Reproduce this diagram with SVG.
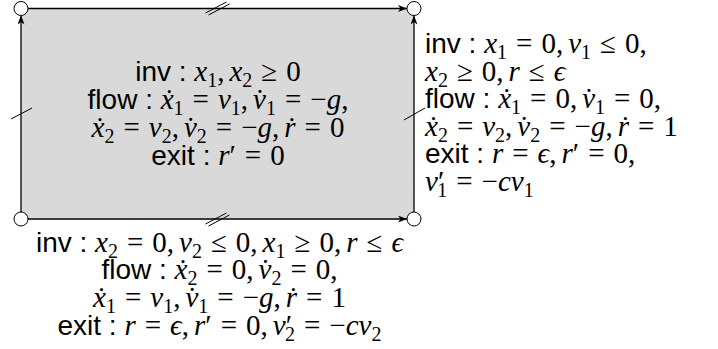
<svg xmlns="http://www.w3.org/2000/svg" width="718" height="349" viewBox="0 0 718 349">
<style>
.t{font-family:"Liberation Serif","DejaVu Serif",serif;font-size:29px;fill:#000}
.w{font-family:"Liberation Sans",Arial,sans-serif;font-size:28px}
.i{font-style:italic}
.s{font-size:20px;font-style:normal}
.edge{stroke:#000;stroke-width:1.3;fill:none}
.tick{stroke:#000;stroke-width:1;fill:none}
.corner{fill:#fff;stroke:#000;stroke-width:1}
</style>
<defs>
<marker id="ah" viewBox="0 0 9 7" refX="9" refY="3.5" markerWidth="9" markerHeight="7" markerUnits="userSpaceOnUse" orient="auto">
<path d="M0,0 L9,3.5 L0,7 L2.5,3.5 Z" fill="#000"/>
</marker>
</defs>

<g id="region">
<rect x="21" y="8.5" width="393" height="210.5" fill="#d9d9d9"/>
<text class="t" x="218" y="81" text-anchor="middle"><tspan class="w">inv : </tspan><tspan class="i">x</tspan><tspan class="s" dy="6">1</tspan><tspan dy="-6">,</tspan><tspan class="i" dx="5">x</tspan><tspan class="s" dy="6">2</tspan><tspan dy="-6" dx="9">≥</tspan><tspan dx="9">0</tspan></text>
<text class="t" x="218" y="109" text-anchor="middle"><tspan class="w">flow : </tspan><tspan class="i">x&#x307;</tspan><tspan class="s" dy="6">1</tspan><tspan dy="-6" dx="9">=</tspan><tspan class="i" dx="9">v</tspan><tspan class="s" dy="6">1</tspan><tspan dy="-6">,</tspan><tspan class="i" dx="5">v&#x307;</tspan><tspan class="s" dy="6">1</tspan><tspan dy="-6" dx="9">=</tspan><tspan dx="9">−</tspan><tspan class="i">g</tspan><tspan>,</tspan></text>
<text class="t" x="218" y="137" text-anchor="middle"><tspan class="i">x&#x307;</tspan><tspan class="s" dy="6">2</tspan><tspan dy="-6" dx="9">=</tspan><tspan class="i" dx="9">v</tspan><tspan class="s" dy="6">2</tspan><tspan dy="-6">,</tspan><tspan class="i" dx="5">v&#x307;</tspan><tspan class="s" dy="6">2</tspan><tspan dy="-6" dx="9">=</tspan><tspan dx="9">−</tspan><tspan class="i">g</tspan><tspan>,</tspan><tspan class="i" dx="5">r&#x307;</tspan><tspan dx="9">=</tspan><tspan dx="9">0</tspan></text>
<text class="t" x="218" y="165" text-anchor="middle"><tspan class="w">exit : </tspan><tspan class="i">r</tspan><tspan>′</tspan><tspan dx="9">=</tspan><tspan dx="9">0</tspan></text>
</g>

<g id="connectors">
<line class="edge" x1="28" y1="8.5" x2="407" y2="8.5" marker-end="url(#ah)"/>
<line class="edge" x1="28" y1="219" x2="407" y2="219" marker-end="url(#ah)"/>
<line class="edge" x1="21" y1="212" x2="21" y2="15.5" marker-end="url(#ah)"/>
<line class="edge" x1="414" y1="212" x2="414" y2="15.5" marker-end="url(#ah)"/>
<path class="tick" d="M205.5,13 L226.5,2 M208.5,15 L229.5,4"/>
<path class="tick" d="M205.5,224 L226.5,213 M208.5,226 L229.5,215"/>
<path class="tick" d="M11,119 L32,108"/>
<path class="tick" d="M404,120 L425,108"/>
</g>

<g id="corner-tl"><circle class="corner" cx="21" cy="8.5" r="7"/></g>
<g id="corner-tr"><circle class="corner" cx="414" cy="8.5" r="7"/></g>
<g id="corner-bl"><circle class="corner" cx="21" cy="219" r="7"/></g>
<g id="corner-br"><circle class="corner" cx="414" cy="219" r="7"/></g>

<g id="label-right">
<text class="t" x="425" y="53"><tspan class="w">inv : </tspan><tspan class="i">x</tspan><tspan class="s" dy="6">1</tspan><tspan dy="-6" dx="9">=</tspan><tspan dx="9">0,</tspan><tspan class="i" dx="5">v</tspan><tspan class="s" dy="6">1</tspan><tspan dy="-6" dx="9">≤</tspan><tspan dx="9">0,</tspan></text>
<text class="t" x="425" y="80.5"><tspan class="i">x</tspan><tspan class="s" dy="6">2</tspan><tspan dy="-6" dx="9">≥</tspan><tspan dx="9">0,</tspan><tspan class="i" dx="5">r</tspan><tspan dx="9">≤</tspan><tspan class="i" dx="9">ϵ</tspan></text>
<text class="t" x="425" y="108"><tspan class="w">flow : </tspan><tspan class="i">x&#x307;</tspan><tspan class="s" dy="6">1</tspan><tspan dy="-6" dx="9">=</tspan><tspan dx="9">0,</tspan><tspan class="i" dx="5">v&#x307;</tspan><tspan class="s" dy="6">1</tspan><tspan dy="-6" dx="9">=</tspan><tspan dx="9">0,</tspan></text>
<text class="t" x="425" y="135.5"><tspan class="i">x&#x307;</tspan><tspan class="s" dy="6">2</tspan><tspan dy="-6" dx="9">=</tspan><tspan class="i" dx="9">v</tspan><tspan class="s" dy="6">2</tspan><tspan dy="-6">,</tspan><tspan class="i" dx="5">v&#x307;</tspan><tspan class="s" dy="6">2</tspan><tspan dy="-6" dx="9">=</tspan><tspan dx="9">−</tspan><tspan class="i">g</tspan><tspan>,</tspan><tspan class="i" dx="5">r&#x307;</tspan><tspan dx="9">=</tspan><tspan dx="9">1</tspan></text>
<text class="t" x="425" y="163"><tspan class="w">exit : </tspan><tspan class="i">r</tspan><tspan dx="9">=</tspan><tspan class="i" dx="9">ϵ</tspan><tspan>,</tspan><tspan class="i" dx="5">r</tspan><tspan>′</tspan><tspan dx="9">=</tspan><tspan dx="9">0,</tspan></text>
<text class="t" x="425" y="190.5"><tspan class="i">v</tspan><tspan>′</tspan><tspan class="s" dx="-7" dy="6">1</tspan><tspan dy="-6" dx="9">=</tspan><tspan dx="9">−</tspan><tspan class="i">cv</tspan><tspan class="s" dy="6">1</tspan></text>
</g>

<g id="label-bottom">
<text class="t" x="219.5" y="251.5" text-anchor="middle"><tspan class="w">inv : </tspan><tspan class="i">x</tspan><tspan class="s" dy="6">2</tspan><tspan dy="-6" dx="9">=</tspan><tspan dx="9">0,</tspan><tspan class="i" dx="5">v</tspan><tspan class="s" dy="6">2</tspan><tspan dy="-6" dx="9">≤</tspan><tspan dx="9">0,</tspan><tspan class="i" dx="5">x</tspan><tspan class="s" dy="6">1</tspan><tspan dy="-6" dx="9">≥</tspan><tspan dx="9">0,</tspan><tspan class="i" dx="5">r</tspan><tspan dx="9">≤</tspan><tspan class="i" dx="9">ϵ</tspan></text>
<text class="t" x="219.5" y="279" text-anchor="middle"><tspan class="w">flow : </tspan><tspan class="i">x&#x307;</tspan><tspan class="s" dy="6">2</tspan><tspan dy="-6" dx="9">=</tspan><tspan dx="9">0,</tspan><tspan class="i" dx="5">v&#x307;</tspan><tspan class="s" dy="6">2</tspan><tspan dy="-6" dx="9">=</tspan><tspan dx="9">0,</tspan></text>
<text class="t" x="219.5" y="306.5" text-anchor="middle"><tspan class="i">x&#x307;</tspan><tspan class="s" dy="6">1</tspan><tspan dy="-6" dx="9">=</tspan><tspan class="i" dx="9">v</tspan><tspan class="s" dy="6">1</tspan><tspan dy="-6">,</tspan><tspan class="i" dx="5">v&#x307;</tspan><tspan class="s" dy="6">1</tspan><tspan dy="-6" dx="9">=</tspan><tspan dx="9">−</tspan><tspan class="i">g</tspan><tspan>,</tspan><tspan class="i" dx="5">r&#x307;</tspan><tspan dx="9">=</tspan><tspan dx="9">1</tspan></text>
<text class="t" x="219.5" y="334.5" text-anchor="middle"><tspan class="w">exit : </tspan><tspan class="i">r</tspan><tspan dx="9">=</tspan><tspan class="i" dx="9">ϵ</tspan><tspan>,</tspan><tspan class="i" dx="5">r</tspan><tspan>′</tspan><tspan dx="9">=</tspan><tspan dx="9">0,</tspan><tspan class="i" dx="5">v</tspan><tspan>′</tspan><tspan class="s" dx="-7" dy="6">2</tspan><tspan dy="-6" dx="9">=</tspan><tspan dx="9">−</tspan><tspan class="i">cv</tspan><tspan class="s" dy="6">2</tspan></text>
</g>
</svg>
